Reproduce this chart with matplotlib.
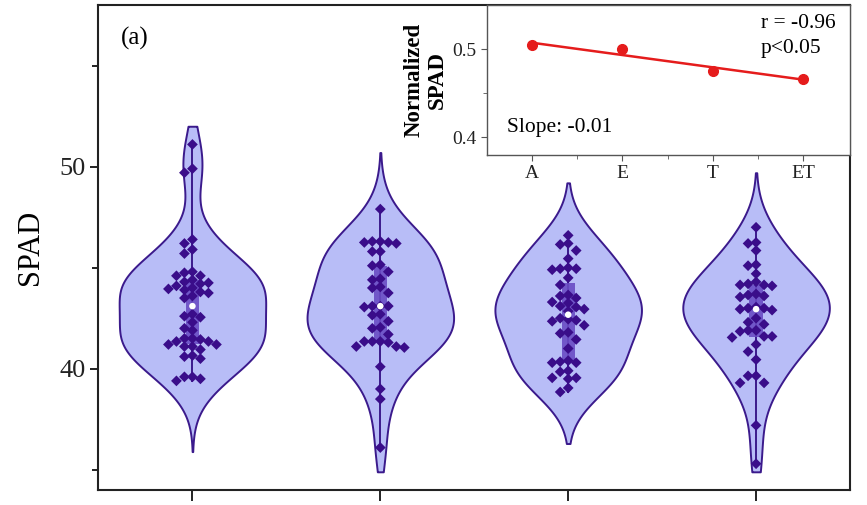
import numpy as np
import matplotlib
matplotlib.use('Agg')
import matplotlib.pyplot as plt
from matplotlib.patches import Rectangle

plt.rcParams['font.family'] = ['Liberation Serif', 'DejaVu Serif']

# SPAD readings per treatment
spad_A = [51.1, 49.9, 49.7, 46.4, 46.2, 45.9, 45.7, 44.8, 44.6, 44.6, 44.75, 44.3,
          44.25, 44.0, 43.9, 43.75, 43.95, 43.5, 43.8, 44.1, 44.4, 43.6, 44.2,
          42.7, 42.6, 42.55, 42.3, 42.0, 41.9, 41.5, 41.45, 41.35, 41.35, 41.2,
          41.2, 41.5, 41.1, 40.95, 41.1, 40.65, 40.6, 40.5, 39.6, 39.6, 39.5, 39.4]
spad_E = [47.9, 46.3, 46.25, 46.25, 46.2, 46.3, 45.8, 45.8, 45.15, 45.1, 44.8,
          44.4, 44.45, 44.05, 44.0, 43.75, 43.1, 43.05, 43.1, 43.1, 42.7, 42.65,
          42.35, 42.0, 42.05, 41.7, 41.35, 41.35, 41.3, 41.35, 41.1, 41.1, 41.05,
          40.1, 39.0, 38.5, 36.1]
spad_T = [46.6, 46.2, 46.15, 45.85, 45.45, 44.95, 44.9, 44.95, 45.0, 44.5, 44.15,
          43.65, 43.5, 43.6, 43.3, 43.25, 43.1, 43.05, 42.85, 42.95, 42.4, 42.45,
          42.35, 42.5, 42.15, 41.8, 41.75, 41.45, 41.0, 40.3, 40.35, 40.3, 40.4,
          39.9, 39.85, 39.55, 39.55, 39.5, 39.05, 38.85]
spad_ET = [47.0, 46.2, 46.25, 45.85, 45.15, 45.1, 44.7, 44.2, 44.15, 44.15, 44.1,
           44.3, 43.6, 43.55, 43.65, 43.7, 43.0, 42.95, 43.0, 42.9, 43.05, 42.5,
           42.3, 42.2, 41.9, 41.85, 41.9, 41.6, 41.55, 41.6, 41.2, 40.85, 40.45,
           39.65, 39.65, 39.3, 39.3, 37.2, 35.3]
groups = [spad_A, spad_E, spad_T, spad_ET]

# violin extents (low, high) as drawn in the original
violin_lims = [(35.9, 52.0), (34.9, 50.7), (36.3, 49.2), (34.9, 49.7)]

# inset: normalized SPAD per treatment
treatments = ['A', 'E', 'T', 'ET']
norm_spad = [0.5045, 0.4997, 0.475, 0.4663]

fill_c = '#b8bdf7'
edge_c = '#3b1a8c'
pt_c = '#3a0d8a'
box_c = '#6a4cc4'

fig = plt.figure(figsize=(8.67, 5.05), dpi=100)
ax = fig.add_axes([0.1136, 0.0297, 0.8668, 0.9604])

xlim = (0.5, 4.5)
ylim = (34.0, 58.0)
# pixels per data unit, for the swarm layout
px_x = 0.8668 * 867 / (xlim[1] - xlim[0])
px_y = 0.9604 * 505 / (ylim[1] - ylim[0])

bw = 1.3
half_w = 0.39
for i, vals in enumerate(groups):
    pos = i + 1
    v = np.array(vals)
    lo, hi = violin_lims[i]
    grid = np.linspace(lo, hi, 400)
    dens = np.exp(-0.5 * ((grid[:, None] - v[None, :]) / bw) ** 2).sum(axis=1)
    w = dens / dens.max() * half_w
    ax.fill_betweenx(grid, pos - w, pos + w, facecolor=fill_c, edgecolor=edge_c,
                     linewidth=1.4, zorder=1)

    # whisker min-max
    ax.plot([pos, pos], [v.min(), v.max()], color=edge_c, lw=1.4, zorder=2)
    q1, med, q3 = np.percentile(v, [25, 50, 75])
    ax.add_patch(Rectangle((pos - 0.035, q1), 0.07, q3 - q1, facecolor=box_c,
                           edgecolor='none', alpha=0.9, zorder=3))

    # simple beeswarm
    placed = []
    xs, ys = [], []
    d = 7.5
    for y in sorted(v, reverse=True):
        k = 0
        while True:
            step = (k + 1) // 2 * (1 if k % 2 == 0 else -1)
            x_off = step * 8.0
            ok = all((x_off - px) ** 2 + ((y - py) * px_y) ** 2 >= d ** 2
                     for px, py in placed)
            if ok:
                break
            k += 1
        placed.append((x_off, y))
        xs.append(pos + x_off / px_x)
        ys.append(y)
    ax.scatter(xs, ys, marker='D', s=30, color=pt_c, edgecolors='none', zorder=4)
    ax.scatter([pos], [med], marker='o', s=22, color='white', edgecolors='none',
               zorder=5)

ax.set_xlim(*xlim)
ax.set_ylim(*ylim)
ax.set_xticks([1, 2, 3, 4])
ax.set_xticklabels([])
ax.set_yticks([40, 50])
ax.set_yticks([35, 45, 55], minor=True)
ax.tick_params(axis='y', which='major', labelsize=19, length=6, width=1.4,
               colors='#222222')
ax.tick_params(axis='y', which='minor', length=4, width=1.4, color='#222222')
ax.tick_params(axis='x', length=8, width=1.4, color='#222222')
for s in ax.spines.values():
    s.set_linewidth(1.5)
    s.set_color('#222222')
ax.set_ylabel('SPAD', fontsize=22, labelpad=10)
ax.text(0.03, 0.955, '(a)', transform=ax.transAxes, fontsize=18, va='top')

# inset regression
ins = fig.add_axes([0.5617, 0.693, 0.4187, 0.297])
xi = np.arange(1, len(treatments) + 1)
coef = np.polyfit(xi, norm_spad, 1)
ins.plot(xi, np.polyval(coef, xi), color='#e51c1c', lw=1.8, zorder=2)
ins.plot(xi, norm_spad, 'o', color='#e51c1c', ms=7, zorder=3)
ins.set_xlim(0.5, 4.52)
ins.set_ylim(0.38, 0.55)
ins.set_xticks(xi)
ins.set_xticklabels(treatments)
ins.set_xticks([1.5, 2.5, 3.5], minor=True)
ins.set_yticks([0.4, 0.5])
ins.set_yticks([0.45], minor=True)
ins.tick_params(labelsize=14, length=4, color='#555555', labelcolor='#222222')
ins.tick_params(which='minor', length=3, color='#555555')
for s in ins.spines.values():
    s.set_linewidth(1.0)
    s.set_color('#555555')
ins.set_ylabel('Normalized\nSPAD', fontsize=16.5, fontweight='bold', labelpad=3,
               linespacing=1.15)
ins.text(0.755, 0.94, 'r = -0.96\np<0.05', transform=ins.transAxes, fontsize=15.5,
         ha='left', va='top', linespacing=1.45)
ins.text(0.055, 0.12, 'Slope: -0.01', transform=ins.transAxes, fontsize=15.5,
         ha='left', va='bottom')

fig.savefig('out.png', dpi=100)
